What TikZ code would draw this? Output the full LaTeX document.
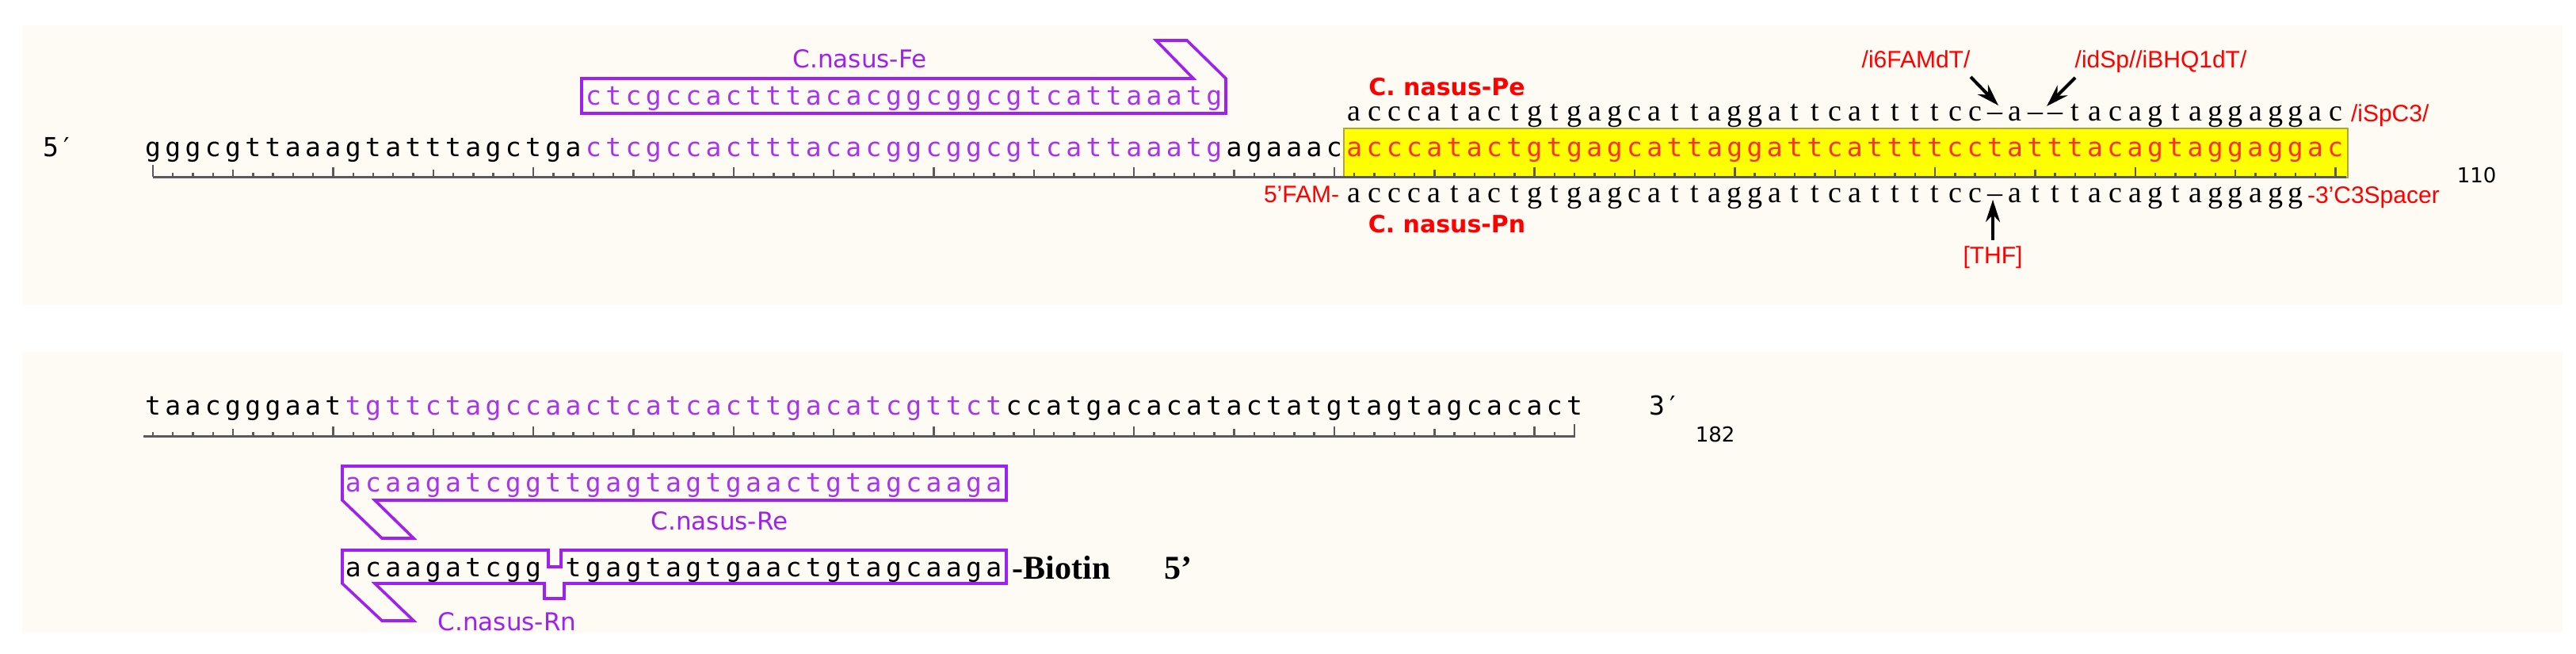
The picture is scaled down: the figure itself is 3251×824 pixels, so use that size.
\documentclass[tikz,border=0pt]{standalone}
\usepackage{fontspec}
\usetikzlibrary{arrows.meta}
\newfontfamily\seqfont{DejaVu Sans Mono}
\newfontfamily\probefont{Liberation Serif}
\newfontfamily\labfont{Liberation Sans}
\newfontfamily\dvsfont{DejaVu Sans}
\definecolor{panelbg}{RGB}{253,251,244}
\definecolor{pviolet}{RGB}{160,32,240}
\definecolor{ptext}{RGB}{168,52,238}
\definecolor{yred}{RGB}{255,48,40}
\definecolor{rulergray}{RGB}{90,90,90}
\definecolor{ybox}{RGB}{255,255,0}
\definecolor{yborder}{RGB}{175,165,60}
\newlength\pitch \setlength\pitch{6.3175pt}
\makeatletter
\let\sq@end\relax
\def\sq#1{\sq@#1\sq@end}
\def\sq@#1{\ifx#1\sq@end\else\makebox[\pitch]{#1}\expandafter\sq@\fi}
\makeatother
\tikzset{
  seq/.style={font=\seqfont\fontsize{8.25pt}{9pt}\selectfont, inner sep=0pt, outer sep=0pt, anchor=base west},
  probe/.style={font=\probefont\fontsize{9.5pt}{10pt}\selectfont, inner sep=0pt, outer sep=0pt, anchor=base west},
  redlab/.style={font=\labfont\fontsize{7.5pt}{8pt}\selectfont, text=red, inner sep=0pt, outer sep=0pt},
  probelab/.style={font=\dvsfont\bfseries\fontsize{7.5pt}{8pt}\selectfont, text=red, inner sep=0pt, anchor=base},
  primerlab/.style={font=\dvsfont\fontsize{7.75pt}{8pt}\selectfont, text=pviolet, inner sep=0pt, anchor=base},
  numlab/.style={font=\dvsfont\fontsize{6.5pt}{7pt}\selectfont, inner sep=0pt, anchor=base west},
  biolab/.style={font=\probefont\bfseries\fontsize{10.5pt}{11pt}\selectfont, inner sep=0pt, anchor=base west},
  primerbox/.style={draw=pviolet, line width=0.9pt, line join=miter},
  pointer/.style={line width=1pt, -{Stealth[length=7pt,width=4.5pt]}},
  rulerline/.style={draw=rulergray, line width=0.75pt},
  rulertick/.style={draw=rulergray, line width=0.6pt},
}
\begin{document}
\begin{tikzpicture}[x=0.25pt,y=-0.25pt]
\useasboundingbox (0,0) rectangle (3251,824);
% panels
\fill[panelbg] (28,32) rectangle (3234,385);
\fill[panelbg] (28,444) rectangle (3234,798);
% yellow probe region
\draw[draw=yborder, fill=ybox, line width=0.45pt] (1696,162) rectangle (2963,224);
% rulers
\draw[rulerline] (193,223) -- (2961,223);
\foreach \i in {1,...,110}{
  \pgfmathsetmacro\tx{193+(\i-1)*25.27}
  \pgfmathsetmacro\ty{ifthenelse(\i==1,208,ifthenelse(mod(\i,10)==0,211,ifthenelse(mod(\i,5)==0,214,218)))}
  \draw[rulertick] (\tx,223) -- (\tx,\ty);
}
\draw[rulerline] (181,550) -- (1988,550);
\foreach \i in {111,...,182}{
  \pgfmathsetmacro\tx{193+(\i-111)*25.27}
  \pgfmathsetmacro\ty{ifthenelse(\i==182,535,ifthenelse(mod(\i,10)==0,538,ifthenelse(mod(\i,5)==0,541,545)))}
  \draw[rulertick] (\tx,550) -- (\tx,\ty);
}
% primer boxes
\draw[primerbox] (734,143) -- (734,99) -- (1506,99) -- (1459,51) -- (1498,51) -- (1547,99) -- (1547,143) -- cycle;
\draw[primerbox] (432,588) -- (1270,588) -- (1270,631) -- (473,631) -- (522,679) -- (482,679) -- (432,631) -- cycle;
\draw[primerbox] (432,694) -- (692,694) -- (692,715) -- (708,715) -- (708,694) -- (1270,694) -- (1270,736) -- (712,736) -- (712,755) -- (687,755) -- (687,736) -- (473,736) -- (522,783) -- (482,783) -- (432,736) -- cycle;
% row 1
\node[seq] (fiveA) at (54,197) {5′};
\node[seq] (row1) at (180.365,197) {\sq{gggcgttaaagtatttagctga}\textcolor{ptext}{\sq{ctcgccactttacacggcggcgtcattaaatg}}\sq{agaaac}\textcolor{yred}{\sq{acccatactgtgagcattaggattcattttcctatttacagtaggaggac}}};
\node[seq, text=ptext] (fe) at (736.3,132) {\sq{ctcgccactttacacggcggcgtcattaaatg}};
\node[primerlab] (felab) at (1085,85) {C.nasus-Fe};
\node[probelab] (pelab) at (1826,120) {C. nasus-Pe};
\node[probe] (pe) at (1696.57,152) {\sq{acccatactgtgagcattaggattcattttcc–a––tacagtaggaggac}};
\node[redlab, anchor=base west] (ispc) at (2967,153) {/iSpC3/};
\node[probe] (pn) at (1696.57,255) {\sq{acccatactgtgagcattaggattcattttcc–atttacagtaggagg}};
\node[redlab, anchor=base east] (fam) at (1690,255) {5’FAM-};
\node[redlab, anchor=base west] (c3) at (2912,256) {-3’C3Spacer};
\node[probelab] (pnlab) at (1826,293) {C. nasus-Pn};
\node[redlab, anchor=base] (fam6) at (2418,85) {/i6FAMdT/};
\node[redlab, anchor=base] (bhq) at (2727,85) {/idSp//iBHQ1dT/};
\node[redlab, anchor=base] (thf) at (2515,332) {[THF]};
\node[numlab] (n110) at (3100,230) {110};
% pointer arrows
\coordinate (tailA) at (2487,97);  \coordinate (tipA) at (2522,133);
\coordinate (tailB) at (2619,98);  \coordinate (tipB) at (2583,134);
\coordinate (tailC) at (2515,303); \coordinate (tipC) at (2515,252);
\draw[pointer] (tailA) -- (tipA);
\draw[pointer] (tailB) -- (tipB);
\draw[pointer] (tailC) -- (tipC);
% row 2
\node[seq] (row2) at (180.365,523) {\sq{taacgggaat}\textcolor{ptext}{\sq{tgttctagccaactcatcacttgacatcgttct}}\sq{ccatgacacatactatgtagtagcacact}};
\node[seq] (threeA) at (2081,523) {3′};
\node[numlab] (n182) at (2139,557) {182};
\node[seq, text=ptext] (re) at (433.07,620) {\sq{acaagatcggttgagtagtgaactgtagcaaga}};
\node[primerlab] (relab) at (908,668) {C.nasus-Re};
\node[seq] (rn) at (433.07,727) {\sq{acaagatcgg}\hspace*{\pitch}\sq{tgagtagtgaactgtagcaaga}};
\node[biolab] (bio) at (1277,730) {-Biotin};
\node[biolab] (fiveB) at (1469,730) {5’};
\node[primerlab] (rnlab) at (640,795) {C.nasus-Rn};
\end{tikzpicture}
\end{document}
